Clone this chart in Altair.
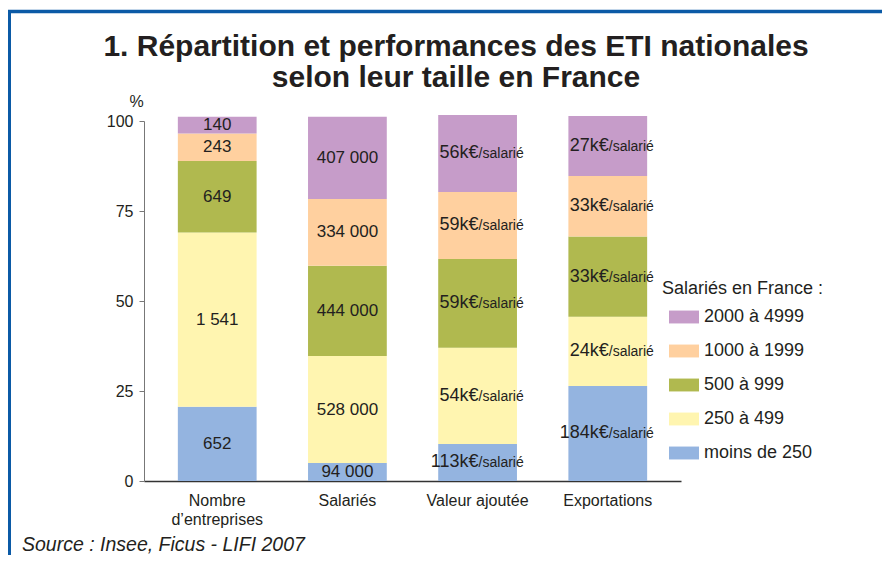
import altair as alt
import pandas as pd

# ---- data ----
categories = ["Nombre d’entreprises", "Salariés", "Valeur ajoutée", "Exportations"]
groups = ["moins de 250", "250 à 499", "500 à 999", "1000 à 1999", "2000 à 4999"]  # bottom -> top
legend_order = ["2000 à 4999", "1000 à 1999", "500 à 999", "250 à 499", "moins de 250"]
colors = ["#C69CC9", "#FFD09F", "#B0B94F", "#FFF5B0", "#94B4E0"]  # same order as legend_order

# segment heights (% of bar), bottom -> top
pct_nombre = [20.6, 48.4, 19.9, 7.6, 4.7]
pct_salaries = [5.0, 29.7, 25.1, 18.5, 22.9]
pct_valeur = [10.3, 26.7, 24.7, 18.6, 21.4]
pct_export = [26.4, 19.2, 22.3, 16.8, 16.7]

lab_nombre = ["652", "1 541", "649", "243", "140"]
lab_salaries = ["94 000", "528 000", "444 000", "334 000", "407 000"]
lab_valeur = ["113k€", "54k€", "59k€", "59k€", "56k€"]
lab_export = ["184k€", "24k€", "33k€", "33k€", "27k€"]
suffix = "/salarié"

title_line1 = "1. Répartition et performances des ETI nationales"
title_line2 = "selon leur taille en France"
source_text = "Source : Insee, Ficus - LIFI 2007"
y_ticks = [0, 25, 50, 75, 100]

# ---- build table ----
rows = []
all_pct = [pct_nombre, pct_salaries, pct_valeur, pct_export]
all_lab = [lab_nombre, lab_salaries, lab_valeur, lab_export]
for ci, cat in enumerate(categories):
    cum = 0.0
    for gi, g in enumerate(groups):
        p = all_pct[ci][gi]
        rows.append({
            "category": cat,
            "group": g,
            "rank": gi,
            "pct": p,
            "mid": cum + p / 2,
            "label": all_lab[ci][gi],
            "suffix": suffix,
            "kind": "count" if ci < 2 else "perf",
        })
        cum += p
df = pd.DataFrame(rows)

FONT = "Liberation Sans"
TXT = "#231F20"

x_enc = alt.X(
    "category:N",
    sort=categories,
    scale=alt.Scale(paddingInner=0.395, paddingOuter=0.26),
    axis=alt.Axis(
        title=None, labelAngle=0, ticks=False, domainColor="#333333", domainWidth=1.5,
        labelFontSize=16, labelColor=TXT, labelPadding=11, labelLineHeight=19,
        labelExpr="datum.value == 'Nombre d’entreprises' ? ['Nombre', 'd’entreprises'] : datum.value",
    ),
)

y_scale = alt.Scale(domain=[0, 100], nice=False)

bars = alt.Chart(df).mark_bar().encode(
    x=x_enc,
    y=alt.Y(
        "pct:Q", stack="zero", scale=y_scale,
        axis=alt.Axis(
            values=y_ticks, grid=False, domainColor="#777777", tickColor="#777777", tickSize=5,
            labelFontSize=16, labelColor=TXT, labelPadding=6,
            title="%", titleAngle=0, titleX=-8, titleY=-15, titleAlign="center",
            titleBaseline="alphabetic", titleFontWeight="normal", titleFontSize=16, titleColor=TXT,
        ),
    ),
    color=alt.Color(
        "group:N",
        scale=alt.Scale(domain=legend_order, range=colors),
        legend=alt.Legend(
            title="Salariés en France :", orient="none", legendX=518, legendY=159,
        ),
    ),
    order=alt.Order("rank:Q", sort="ascending"),
)

count_text = alt.Chart(df).transform_filter("datum.kind == 'count'").mark_text(
    baseline="middle", fontSize=17, color=TXT
).encode(
    x=alt.X("category:N", sort=categories),
    y=alt.Y("mid:Q", stack=None, scale=y_scale),
    text="label:N",
)

perf_num = alt.Chart(df).transform_filter("datum.kind == 'perf'").mark_text(
    baseline="middle", align="right", fontSize=18, color=TXT, dx=1
).encode(
    x=alt.X("category:N", sort=categories),
    y=alt.Y("mid:Q", stack=None, scale=y_scale),
    text="label:N",
)

perf_suf = alt.Chart(df).transform_filter("datum.kind == 'perf'").mark_text(
    baseline="middle", align="left", fontSize=14, color=TXT, dx=1, dy=1
).encode(
    x=alt.X("category:N", sort=categories),
    y=alt.Y("mid:Q", stack=None, scale=y_scale),
    text="suffix:N",
)

source = alt.Chart(pd.DataFrame({"t": [source_text]})).mark_text(
    align="left", baseline="alphabetic", fontSize=19.5, fontStyle="italic", color=TXT
).encode(x=alt.value(-122), y=alt.value(430), text="t:N")

title1 = alt.Chart(pd.DataFrame({"t": [title_line1]})).mark_text(
    align="center", baseline="alphabetic", fontSize=30, fontWeight="bold", color=TXT
).encode(x=alt.value(312), y=alt.value(-65), text="t:N")
title2 = alt.Chart(pd.DataFrame({"t": [title_line2]})).mark_text(
    align="center", baseline="alphabetic", fontSize=30, fontWeight="bold", color=TXT
).encode(x=alt.value(312), y=alt.value(-34), text="t:N")

frame_df = pd.DataFrame({"k": [1]})
top_border = alt.Chart(frame_df).mark_rule(color="#0B5AA6", strokeWidth=3.5).encode(
    x=alt.value(-136), x2=alt.value(740), y=alt.value(-109.5)
)
left_border = alt.Chart(frame_df).mark_rule(color="#0B5AA6", strokeWidth=3).encode(
    x=alt.value(-134.5), y=alt.value(-111), y2=alt.value(440)
)

chart = alt.layer(
    top_border, left_border, bars, count_text, perf_num, perf_suf, source, title1, title2
).properties(
    width=537,
    height=360,
    autosize=alt.AutoSizeParams(type="none"),
    padding={"left": 136, "top": 113, "right": 201, "bottom": 74},
).configure(
    font=FONT,
).configure_view(
    stroke=None,
).configure_legend(
    titleFontSize=18, titleFontWeight="normal", titleColor=TXT, titlePadding=4,
    labelFontSize=18, labelColor=TXT, labelOffset=5,
    symbolType="M-1,-0.43L1,-0.43L1,0.43L-1,0.43Z", symbolSize=900,
    symbolStrokeWidth=0, symbolOffset=7, rowPadding=10, padding=0,
)

chart.save("out.html", embed_options={"renderer": "svg", "actions": False})
